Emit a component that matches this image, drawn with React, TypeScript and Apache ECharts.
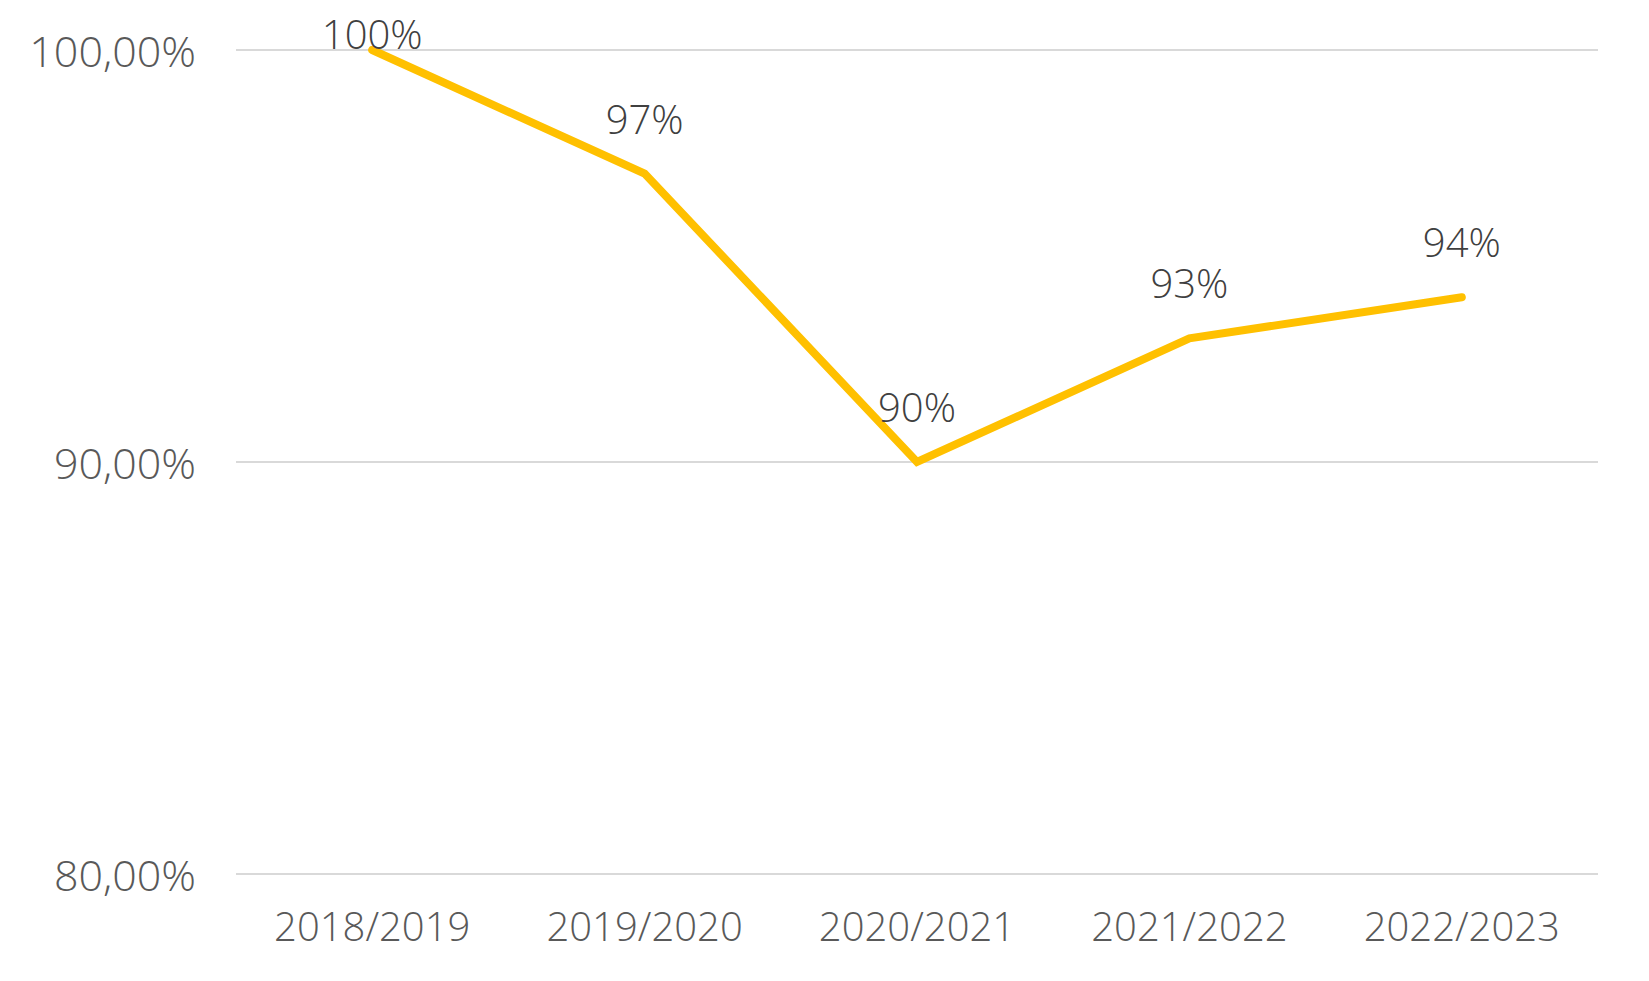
import React, { useEffect, useRef } from "react";
import * as echarts from "echarts";

const categories = ["2018/2019", "2019/2020", "2020/2021", "2021/2022", "2022/2023"];
const values = [100, 97, 90, 93, 94];
const yTicks = { min: 80, max: 100, interval: 10 };

const FONT = "'Open Sans', 'DejaVu Sans', sans-serif";

export default function App() {
  const ref = useRef<HTMLDivElement>(null);
  useEffect(() => {
    if (!ref.current) return;
    const chart = echarts.init(ref.current, null, { renderer: "svg" });
    chart.setOption({
      animation: false,
      backgroundColor: "#ffffff",
      grid: { left: 236, right: 51, top: 50, bottom: 107, containLabel: false },
      xAxis: {
        type: "category",
        data: categories,
        boundaryGap: true,
        axisLine: { show: false },
        axisTick: { show: false },
        axisLabel: {
          color: "#595959",
          fontFamily: FONT,
          fontWeight: 300,
          fontSize: 40,
          lineHeight: 40,
          margin: 31,
        },
      },
      yAxis: {
        type: "value",
        min: yTicks.min,
        max: yTicks.max,
        interval: yTicks.interval,
        axisLine: { show: false },
        axisTick: { show: false },
        splitLine: { lineStyle: { color: "#d9d9d9", width: 2 } },
        axisLabel: {
          color: "#595959",
          fontFamily: FONT,
          fontWeight: 300,
          fontSize: 43,
          margin: 40,
          padding: [0, 0, 5, 0],
          formatter: (v: number) => v.toFixed(2).replace(".", ",") + "%",
        },
      },
      series: [
        {
          type: "line",
          data: values.map((v, i) => ({
            value: v,
            label: { distance: i === 0 ? -4 : 35 },
          })),
          symbol: "circle",
          symbolSize: 1,
          showSymbol: true,
          itemStyle: { color: "rgba(0,0,0,0)" },
          lineStyle: { color: "#FFC000", width: 8, cap: "round", join: "miter" },
          clip: true,
          label: {
            show: true,
            position: "top",
            color: "#404040",
            fontFamily: FONT,
            fontWeight: 300,
            fontSize: 40,
            lineHeight: 40,
            formatter: (p: any) => Math.round(p.value) + "%",
          },
        },
      ],
    });
    return () => chart.dispose();
  }, []);
  return (
    <div
      ref={ref}
      style={{ position: "fixed", left: 0, top: 0, width: 1649, height: 981 }}
    />
  );
}
